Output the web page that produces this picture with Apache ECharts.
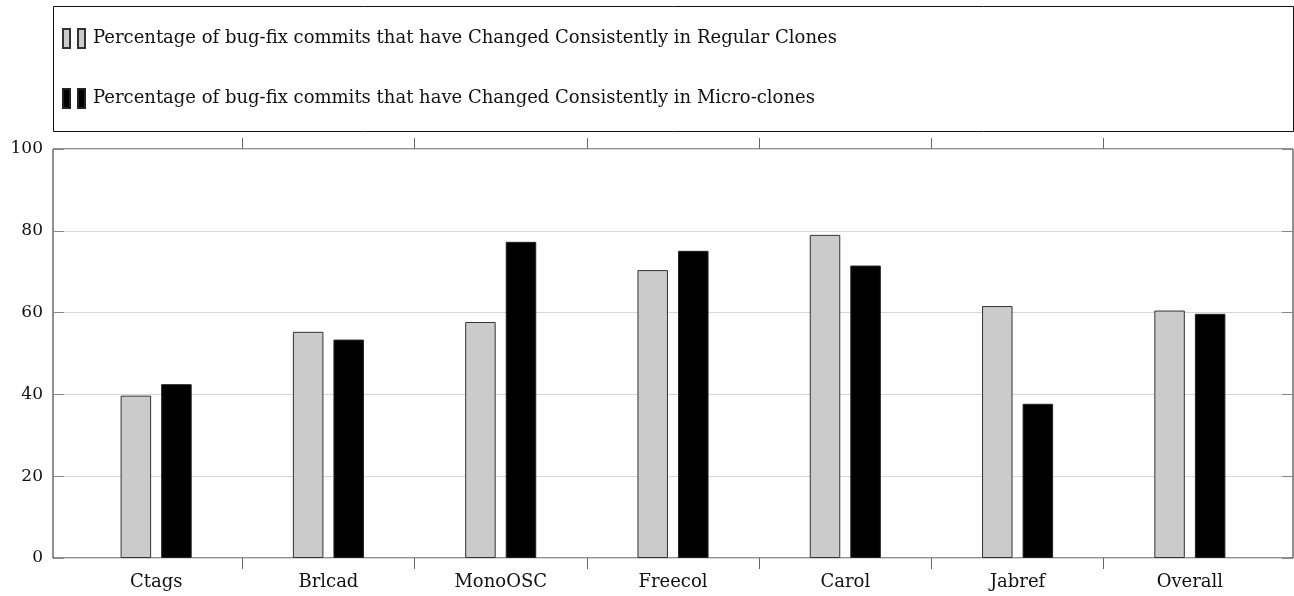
<!DOCTYPE html>
<html>
<head>
<meta charset="utf-8">
<script src="https://cdn.jsdelivr.net/npm/echarts@6/dist/echarts.min.js"></script>
<style>
  html, body { margin: 0; padding: 0; background: #ffffff; }
  #chart { width: 1294px; height: 596px; }
</style>
</head>
<body>
<div id="chart"></div>
<script>
// Projects compared, one group of bars each
const categories = ['Ctags', 'Brlcad', 'MonoOSC', 'Freecol', 'Carol', 'Jabref', 'Overall'];

// Percentage of bug-fix commits that changed consistently
const regularClones = [39.7, 55.3, 57.7, 70.4, 79.0, 61.6, 60.5];
const microClones   = [42.5, 53.4, 77.3, 75.1, 71.5, 37.7, 59.7];

const seriesNames = [
  'Percentage of bug-fix commits that have Changed Consistently in Regular Clones',
  'Percentage of bug-fix commits that have Changed Consistently in Micro-clones'
];

// Value axis range and step
const yMin = 0;
const yMax = 100;
const yStep = 20;

// Separator ticks between neighbouring groups (group boundaries, in group units)
const groupBoundaries = [1, 2, 3, 4, 5, 6];

const FONT = 'DejaVu Serif';
const legendIcon = 'path://M0,0H7V19H0Z M15,0H22V19H15Z';

const chart = echarts.init(document.getElementById('chart'), null, { renderer: 'canvas' });

const option = {
  animation: false,
  backgroundColor: '#ffffff',
  graphic: [{
    type: 'rect',
    silent: true,
    shape: { x: 53.5, y: 6.5, width: 1240, height: 125 },
    style: { fill: 'none', stroke: '#111', lineWidth: 1 }
  }],
  legend: {
    orient: 'vertical',
    left: 62,
    top: 28,
    padding: 0,
    itemWidth: 22,
    itemHeight: 19,
    itemGap: 39,
    textStyle: { fontFamily: FONT, fontSize: 18, lineHeight: 19, color: '#111', padding: [0, 0, 0, 3] },
    data: [
      { name: seriesNames[0], icon: legendIcon },
      { name: seriesNames[1], icon: legendIcon }
    ]
  },
  grid: [
    // outer frame with horizontal grid lines
    { left: 53, top: 149, width: 1240, height: 409, show: true, borderColor: '#222', borderWidth: 1, backgroundColor: 'transparent' },
    // inner band area holding the bar groups
    { left: 70, top: 149, width: 1206, height: 409 }
  ],
  xAxis: [
    { gridIndex: 0, type: 'value', min: 0, max: 1, show: false },
    {
      gridIndex: 1, type: 'category', data: categories, boundaryGap: true,
      axisLine: { show: false }, axisTick: { show: false },
      axisLabel: { fontFamily: FONT, fontSize: 18, color: '#111', margin: 15 }
    },
    {
      gridIndex: 1, type: 'value', position: 'bottom', min: 0, max: categories.length,
      axisLine: { show: false }, splitLine: { show: false },
      axisLabel: { show: false },
      axisTick: { show: true, inside: false, length: 11, customValues: groupBoundaries, lineStyle: { color: '#666', width: 1 } }
    },
    {
      gridIndex: 1, type: 'value', position: 'top', min: 0, max: categories.length,
      axisLine: { show: false }, splitLine: { show: false },
      axisLabel: { show: false },
      axisTick: { show: true, inside: false, length: 11, customValues: groupBoundaries, lineStyle: { color: '#666', width: 1 } }
    }
  ],
  yAxis: [
    {
      gridIndex: 0, type: 'value', min: yMin, max: yMax, interval: yStep, position: 'left',
      axisLine: { show: false },
      axisTick: { show: true, inside: true, length: 11, lineStyle: { color: '#888' } },
      axisLabel: { fontFamily: FONT, fontSize: 17, color: '#111', margin: 10 },
      splitLine: { show: true, lineStyle: { color: '#d6d6d6', width: 1.2 } }
    },
    {
      gridIndex: 0, type: 'value', min: yMin, max: yMax, interval: yStep, position: 'right',
      axisLine: { show: false },
      axisTick: { show: true, inside: true, length: 11, lineStyle: { color: '#888' } },
      axisLabel: { show: false },
      splitLine: { show: false }
    },
    { gridIndex: 1, type: 'value', min: yMin, max: yMax, show: false }
  ],
  series: [
    {
      name: seriesNames[0], type: 'bar', xAxisIndex: 1, yAxisIndex: 2,
      data: regularClones, barWidth: 30.5, barGap: '33%',
      itemStyle: { color: '#cbcbcb', borderColor: '#333', borderWidth: 1 }
    },
    {
      name: seriesNames[1], type: 'bar', xAxisIndex: 1, yAxisIndex: 2,
      data: microClones, barWidth: 30.5, barGap: '33%',
      itemStyle: { color: '#000000', borderColor: '#222', borderWidth: 1 }
    }
  ]
};

chart.setOption(option);
</script>
</body>
</html>
